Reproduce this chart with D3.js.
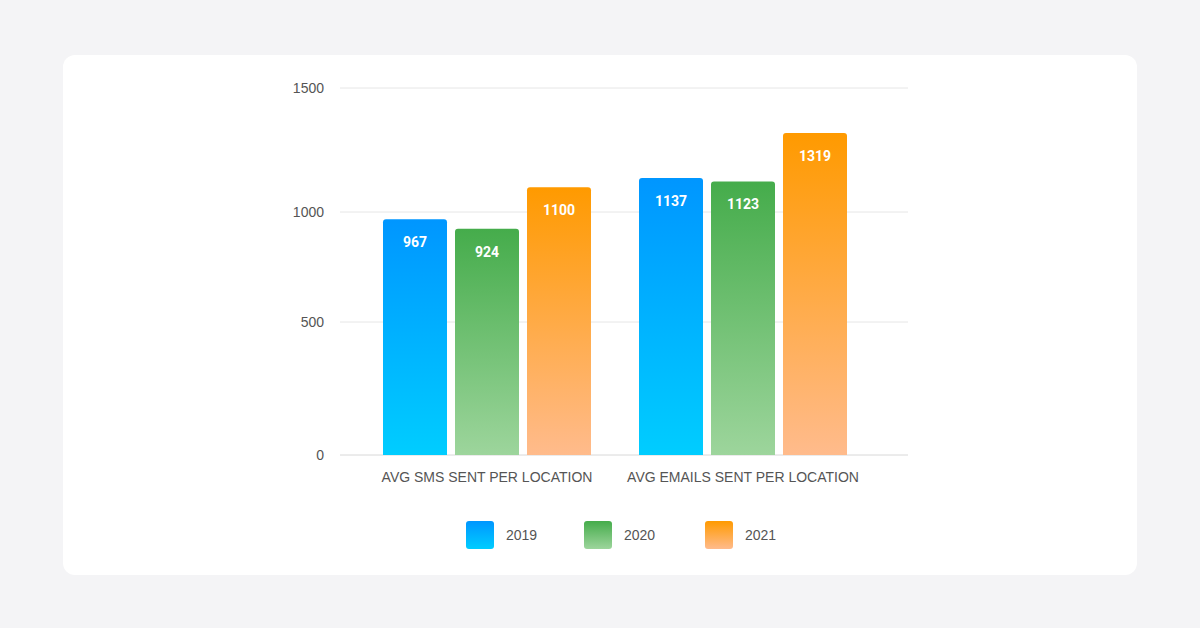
<!DOCTYPE html>
<html><head><meta charset="utf-8">
<script src="https://cdn.jsdelivr.net/npm/d3@7"></script>
<style>body{margin:0;background:#f4f4f6;font-family:"Liberation Sans",Arial,sans-serif}</style>
</head><body>
<svg id="c" width="1200" height="628"></svg>
<script>
const categories = ["AVG SMS SENT PER LOCATION", "AVG EMAILS SENT PER LOCATION"];
const years = ["2019", "2020", "2021"];
const values2019 = [967, 1137];
const values2020 = [924, 1123];
const values2021 = [1100, 1319];
const tickValues = [0, 500, 1000, 1500];
const series = [values2019, values2020, values2021];
const grads = [["#0096ff","#00cdff"],["#45ac4b","#9dd59c"],["#ff9a00","#ffbb8c"]];

const svg = d3.select("#c");
svg.append("rect").attr("x",63).attr("y",55).attr("width",1074).attr("height",520).attr("rx",12).attr("fill","#fff");
const defs = svg.append("defs");
grads.forEach((g,i)=>{
  const lg = defs.append("linearGradient").attr("id","g"+i).attr("x1",0).attr("y1",0).attr("x2",0).attr("y2",1);
  lg.append("stop").attr("offset","0%").attr("stop-color",g[0]);
  lg.append("stop").attr("offset","100%").attr("stop-color",g[1]);
});
const y = d3.scaleLinear().domain(tickValues).range([455,322,212,88]);
const x0 = d3.scaleBand().domain(categories).range([383,847]).paddingInner(0.1875);
const x1 = d3.scaleBand().domain(years).range([0,x0.bandwidth()]).paddingInner(8/72).paddingOuter(0);

tickValues.forEach(t=>{
  svg.append("line").attr("x1",340).attr("x2",908).attr("y1",y(t)).attr("y2",y(t)).attr("stroke",t===0?"#d8d8d8":"#e6e6e6");
  svg.append("text").attr("x",324).attr("y",y(t)+5).attr("text-anchor","end").attr("font-size",14).attr("fill","#555").text(t);
});
categories.forEach((c,ci)=>{
  svg.append("text").attr("x",x0(c)+x0.bandwidth()/2).attr("y",482).attr("text-anchor","middle").attr("font-size",14).attr("fill","#555").text(c);
  years.forEach((yr,si)=>{
    const v = series[si][ci], bx = x0(c)+x1(yr), w = x1.bandwidth(), top = y(v), r=3;
    svg.append("path").attr("fill",`url(#g${si})`)
      .attr("d",`M${bx},${y(0)}V${top+r}Q${bx},${top} ${bx+r},${top}H${bx+w-r}Q${bx+w},${top} ${bx+w},${top+r}V${y(0)}Z`);
    svg.append("text").attr("x",bx+w/2).attr("y",top+28).attr("text-anchor","middle").attr("font-size",14).attr("font-weight","bold").attr("font-family","Roboto,sans-serif").attr("fill","#fff").text(v);
  });
});
const lx = [466,584,705];
years.forEach((yr,i)=>{
  svg.append("rect").attr("x",lx[i]).attr("y",521).attr("width",28).attr("height",28).attr("rx",3).attr("fill",`url(#g${i})`);
  svg.append("text").attr("x",lx[i]+40).attr("y",540).attr("font-size",14).attr("fill","#555").text(yr);
});
</script>
</body></html>
